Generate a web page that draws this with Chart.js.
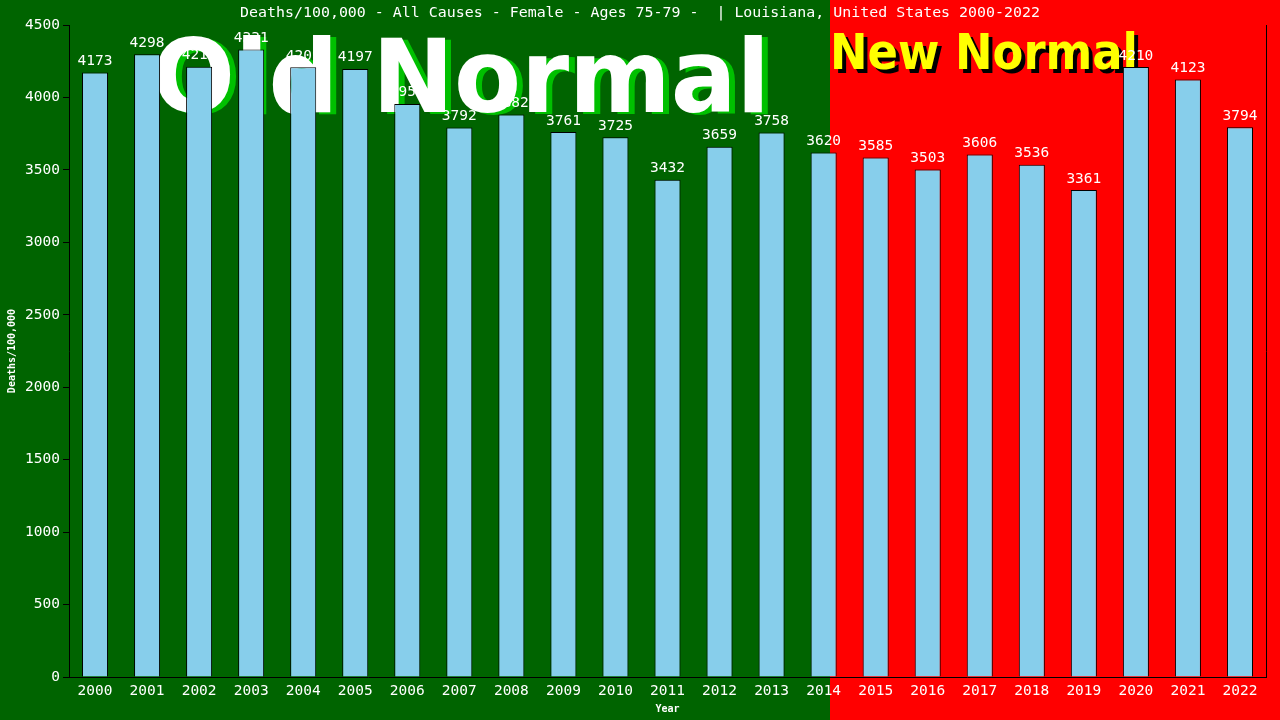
<!DOCTYPE html>
<html lang="en">
  <head>
    <meta charset="UTF-8" />
    <title>Deaths/100,000 - All Causes - Female - Ages 75-79 - Louisiana</title>
    <script src="https://cdn.jsdelivr.net/npm/chart.js"></script>
    <style>
      html, body { margin: 0; padding: 0; background: #006400; }
      .chart-box { width: 1280px; height: 720px; position: relative; }
    </style>
  </head>
  <body>
    <div class="chart-box">
      <canvas id="deathsChart"></canvas>
    </div>
    <script>
      const years = ["2000", "2001", "2002", "2003", "2004", "2005", "2006", "2007", "2008", "2009", "2010", "2011",
                     "2012", "2013", "2014", "2015", "2016", "2017", "2018", "2019", "2020", "2021", "2022"];
      const deathRates = [4173, 4298, 4212, 4331, 4209, 4197, 3955, 3792, 3882, 3761, 3725, 3432,
                          3659, 3758, 3620, 3585, 3503, 3606, 3536, 3361, 4210, 4123, 3794];
      const yTicks = [0, 500, 1000, 1500, 2000, 2500, 3000, 3500, 4000, 4500];
      const chartTitle = 'Deaths/100,000 - All Causes - Female - Ages 75-79 -  | Louisiana, United States 2000-2022';

      const mono = "'DejaVu Sans Mono', 'Liberation Mono', monospace";

      // draws text squeezed/stretched to a given width (left aligned)
      function fitText(ctx, text, x, y, width) {
        const w = ctx.measureText(text).width;
        ctx.save();
        ctx.textAlign = 'left';
        ctx.translate(x, y);
        ctx.scale(width / w, 1);
        ctx.fillText(text, 0, 0);
        ctx.restore();
      }

      // green / red halves, title and the big captions behind the bars
      const backdrop = {
        id: 'backdrop',
        beforeDraw(chart) {
          const ctx = chart.ctx;
          const split = 830;
          ctx.save();
          ctx.fillStyle = '#006400';
          ctx.fillRect(0, 0, split, chart.height);
          ctx.fillStyle = '#ff0000';
          ctx.fillRect(split, 0, chart.width - split, chart.height);
          ctx.fillStyle = '#ffffff';
          ctx.font = '14.5px ' + mono;
          ctx.textBaseline = 'middle';
          fitText(ctx, chartTitle, 240, 13, 800);
          ctx.restore();
        },
        beforeDatasetsDraw(chart) {
          const ctx = chart.ctx;
          ctx.save();
          ctx.textBaseline = 'alphabetic';
          ctx.font = "bold 102px 'DejaVu Sans', sans-serif";
          ctx.fillStyle = '#00c000';
          fitText(ctx, 'Old Normal', 158, 114, 618);
          ctx.fillStyle = '#ffffff';
          fitText(ctx, 'Old Normal', 152, 112, 618);
          ctx.font = "bold 50px 'DejaVu Sans', sans-serif";
          ctx.fillStyle = '#000000';
          fitText(ctx, 'New Normal', 834, 73, 308);
          ctx.fillStyle = '#ffff00';
          fitText(ctx, 'New Normal', 830, 69, 308);
          ctx.restore();
        },
        afterDatasetsDraw(chart) {
          const ctx = chart.ctx;
          const meta = chart.getDatasetMeta(0);
          ctx.save();
          ctx.font = '14.5px ' + mono;
          ctx.fillStyle = '#ffffff';
          ctx.textAlign = 'center';
          ctx.textBaseline = 'bottom';
          meta.data.forEach((bar, i) => {
            ctx.fillText(String(deathRates[i]), bar.x, bar.y - 4);
          });
          ctx.restore();
        }
      };

      new Chart(document.getElementById('deathsChart'), {
        type: 'bar',
        data: {
          labels: years,
          datasets: [{
            label: 'Deaths/100,000',
            data: deathRates,
            backgroundColor: '#87ceeb',
            borderColor: '#000000',
            borderWidth: 1,
            barPercentage: 0.5,
            categoryPercentage: 1.0
          }]
        },
        options: {
          responsive: true,
          maintainAspectRatio: false,
          animation: false,
          layout: { padding: { left: 0, right: 14, top: 25, bottom: 0 } },
          plugins: {
            legend: { display: false },
            tooltip: { enabled: false },
            title: { display: false }
          },
          scales: {
            x: {
              afterFit(axis) { axis.height = 43; },
              grid: { display: false, drawTicks: false },
              border: { color: '#000000', width: 1 },
              ticks: { color: '#ffffff', font: { family: mono, size: 14.5 }, padding: 6, maxRotation: 0 },
              title: { display: true, text: 'Year', color: '#ffffff', font: { family: mono, size: 10, weight: 'bold' }, padding: { top: 0, bottom: 5 } }
            },
            y: {
              min: 0,
              max: 4500,
              afterBuildTicks(axis) { axis.ticks = yTicks.map(v => ({ value: v })); },
              afterFit(axis) { axis.width = 69; },
              grid: { display: true, drawOnChartArea: false, drawTicks: true, tickLength: 6, tickColor: '#000000', color: '#000000' },
              border: { color: '#000000', width: 1 },
              ticks: { color: '#ffffff', font: { family: mono, size: 14.5 }, padding: 3, callback: v => String(v) },
              title: { display: true, text: 'Deaths/100,000', color: '#ffffff', font: { family: mono, size: 10, weight: 'bold' }, padding: { top: 6, bottom: 2 } }
            },
            yRight: {
              position: 'right',
              min: 0,
              max: 4500,
              afterFit(axis) { axis.width = 0; },
              grid: { display: false, drawTicks: false },
              border: { color: '#000000', width: 1 },
              ticks: { display: false }
            }
          }
        },
        plugins: [backdrop]
      });
    </script>
  </body>
</html>
